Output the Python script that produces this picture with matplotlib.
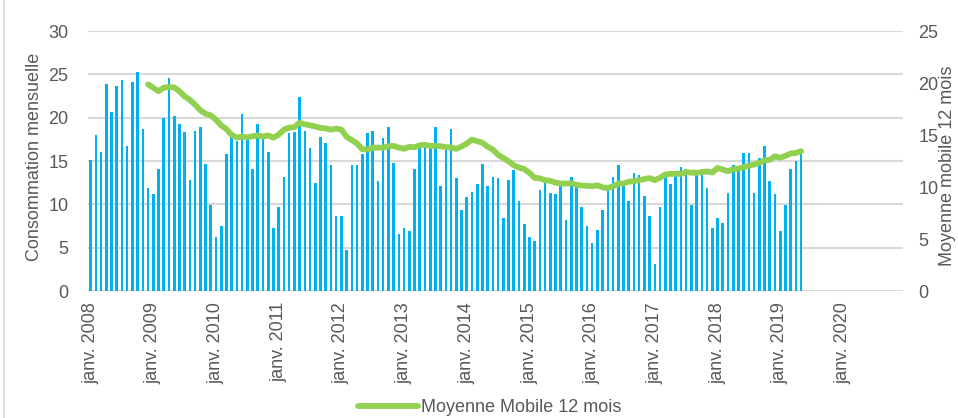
import matplotlib
matplotlib.use("Agg")
import matplotlib.pyplot as plt
import numpy as np
import pandas as pd
from matplotlib.lines import Line2D

plt.rcParams['font.family'] = ['Liberation Sans', 'DejaVu Sans']

# Monthly consumption, Jan 2008 .. May 2019
conso_2008 = [15.1, 18.0, 16.0, 23.9, 20.6, 23.7, 24.4, 16.7, 24.1, 25.3, 18.7, 11.9]
conso_2009 = [11.2, 14.1, 20.0, 24.6, 20.2, 19.3, 18.4, 12.8, 18.5, 18.9, 14.7, 9.9]
conso_2010 = [6.2, 7.5, 15.8, 17.8, 17.3, 20.4, 17.5, 14.1, 19.3, 17.7, 16.0, 7.3]
conso_2011 = [9.7, 13.2, 18.2, 18.4, 22.4, 18.5, 16.5, 12.5, 17.8, 17.1, 14.5, 8.6]
conso_2012 = [8.6, 4.7, 14.5, 14.5, 15.8, 18.2, 18.5, 12.7, 17.6, 18.9, 14.8, 6.6]
conso_2013 = [7.3, 6.9, 14.1, 16.6, 16.6, 16.6, 18.9, 12.1, 16.6, 18.7, 13.0, 9.3]
conso_2014 = [10.8, 11.4, 12.3, 14.7, 12.1, 13.2, 13.0, 8.4, 12.8, 14.0, 10.4, 7.7]
conso_2015 = [6.2, 5.8, 11.7, 12.5, 11.3, 11.2, 12.1, 8.2, 13.2, 12.1, 9.7, 7.5]
conso_2016 = [5.5, 7.0, 9.3, 11.7, 13.2, 14.5, 12.1, 10.4, 13.6, 13.4, 11.0, 8.6]
conso_2017 = [3.1, 9.7, 13.2, 12.3, 13.4, 14.3, 14.1, 9.9, 13.4, 14.1, 11.9, 7.3]
conso_2018 = [8.4, 7.8, 11.3, 14.5, 14.2, 15.9, 15.9, 11.3, 15.4, 16.7, 12.7, 11.2]
conso_2019 = [6.9, 9.9, 14.1, 15.0, 16.3]

years = list(range(2008, 2021))
tick_labels = [f"janv. {y}" for y in years]

conso = (conso_2008 + conso_2009 + conso_2010 + conso_2011 + conso_2012 + conso_2013 +
         conso_2014 + conso_2015 + conso_2016 + conso_2017 + conso_2018 + conso_2019)
months = np.arange(len(conso))
# 12-month moving average, as named in the chart
moy_mobile = pd.Series(conso).rolling(12).mean()

BLUE = '#00B0F0'
GREEN = '#92D050'
GRID = '#D9D9D9'
TXT = '#595959'
FS = 13

fig = plt.figure(figsize=(9.58, 4.18), dpi=100)
ax = fig.add_axes([88/958, 1-291/418, (903-88)/958, (291-31)/418])
ax2 = ax.twinx()

ax.bar(months, conso, width=0.5, color=BLUE, zorder=2)
ax2.plot(months, moy_mobile, color=GREEN, lw=4.2, solid_capstyle='round', zorder=3,
         label='Moyenne Mobile 12 mois')

ax.set_xlim(-0.5, 155.5)
ax.set_ylim(0, 30)
ax2.set_ylim(0, 25)
ax.set_yticks(range(0, 31, 5))
ax2.set_yticks(range(0, 26, 5))
ax.set_xticks([12*i for i in range(len(years))])
ax.set_xticklabels(tick_labels, rotation=90, fontsize=FS, color=TXT)
ax.grid(axis='y', color=GRID, lw=1.5, zorder=0)
ax.set_axisbelow(True)
for a in (ax, ax2):
    for s in ('top', 'left', 'right', 'bottom'):
        a.spines[s].set_visible(False)
ax.axhline(0, color=GRID, lw=2, zorder=1)
ax.tick_params(axis='both', length=0, labelsize=FS, labelcolor=TXT)
ax.tick_params(axis='y', pad=14)
ax.tick_params(axis='x', pad=8)
ax2.tick_params(axis='y', length=0, labelsize=FS, labelcolor=TXT, pad=11)
ax2.set_zorder(ax.get_zorder()+1)
ax2.patch.set_visible(False)

fig.text(35/958, 1-157/418, 'Consommation mensuelle', rotation=90, ha='center', va='center',
         fontsize=FS, color=TXT)
fig.text(948/958, 1-166/418, 'Moyenne mobile 12 mois', rotation=90, ha='center', va='center',
         fontsize=FS, color=TXT)

fig.legend(handles=[Line2D([0], [0], color=GREEN, lw=4.2, solid_capstyle='round')],
           labels=['Moyenne Mobile 12 mois'], loc='center',
           bbox_to_anchor=(490/958, 1-408/418), frameon=False, fontsize=FS,
           labelcolor=TXT, handlelength=3.3, handletextpad=0.2)

fig.add_artist(Line2D([4/958, 4/958], [0, 1], color=GRID, lw=1.2, transform=fig.transFigure))

fig.savefig('out.png', dpi=100)
